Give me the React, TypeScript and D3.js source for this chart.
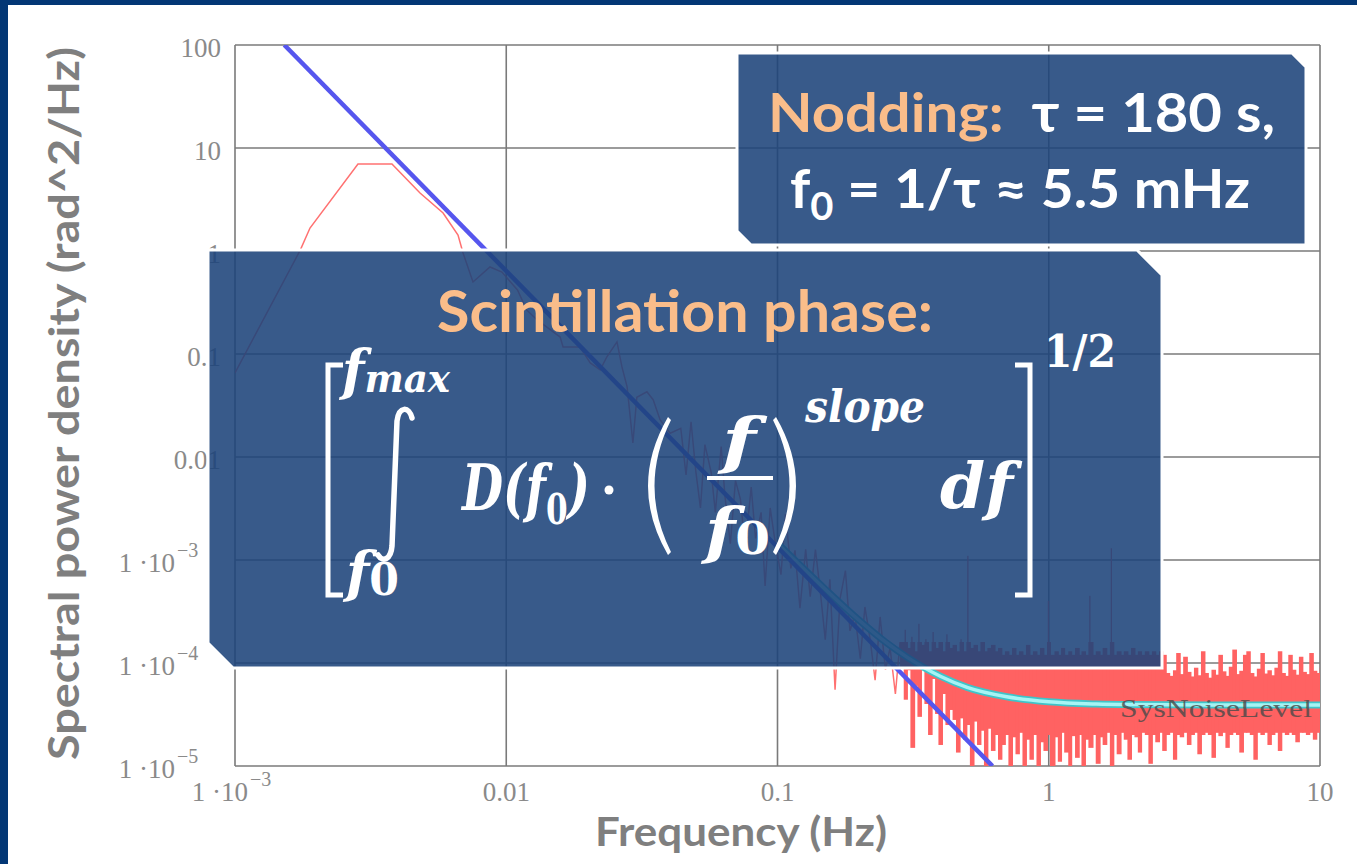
import React from "react";
import * as d3 from "d3";

// axis ticks
const yTicks = [100, 10, 1, 0.1, 0.01, 1e-3, 1e-4, 1e-5];
const yTickLabels = ["100", "10", "1", "0.1", "0.01", "1 ·10^−3", "1 ·10^−4", "1 ·10^−5"];
const xTicks = [1e-3, 0.01, 0.1, 1, 10];
const xTickLabels = ["1 ·10^−3", "0.01", "0.1", "1", "10"];

// measured phase spectrum, low/mid frequencies [Hz, rad^2/Hz]
const measuredPsd: [number, number][] = [
  [0.001, 0.0655], [0.00174, 1.02], [0.00189, 1.67], [0.00284, 7.0], [0.00379, 7.0],
  [0.00481, 3.66], [0.00585, 2.34], [0.00664, 1.43], [0.00693, 0.957], [0.00754, 0.5],
  [0.00871, 0.7], [0.00964, 0.625], [0.011, 0.418], [0.0119, 0.267], [0.013, 0.214],
  [0.0158, 0.146], [0.0162, 0.117], [0.0187, 0.117], [0.0204, 0.082], [0.0222, 0.07],
  [0.0235, 0.094], [0.0256, 0.131], [0.0267, 0.075], [0.0279, 0.048], [0.0293, 0.0137],
  [0.0303, 0.038], [0.033, 0.043], [0.0348, 0.036], [0.0369, 0.023], [0.0402, 0.017],
  [0.044, 0.019], [0.046, 0.0067], [0.048, 0.022], [0.05, 0.0072], [0.052, 0.0032],
  [0.054, 0.0132], [0.057, 0.007], [0.059, 0.0029], [0.062, 0.0126], [0.064, 0.0042],
  [0.067, 0.00144], [0.07, 0.0059], [0.073, 0.0039], [0.076, 0.00132], [0.08, 0.0051],
  [0.083, 0.00162], [0.087, 0.0029], [0.09, 0.00056], [0.094, 0.0032], [0.098, 0.0015],
  [0.103, 0.00072], [0.107, 0.0028], [0.112, 0.00083], [0.116, 0.00124], [0.121, 0.00034],
  [0.127, 0.00127], [0.132, 0.00044], [0.138, 0.00126], [0.144, 0.00048], [0.15, 0.000168],
  [0.156, 0.00065], [0.163, 0.000055], [0.17, 0.00042], [0.178, 0.00079], [0.185, 0.000205],
  [0.193, 0.000294], [0.202, 0.00011], [0.21, 0.00035], [0.22, 0.000164], [0.229, 0.000068],
  [0.239, 0.00028], [0.25, 0.000086], [0.26, 0.00014], [0.272, 0.00005], [0.283, 0.00016],
];

// noise floor, min/max per frequency column [Hz, low, high]
const noiseFloor: [number, number, number][] = [
  [0.283, 9e-5, 1.6e-4], [0.292, 4.4e-5, 2.1e-4], [0.3, 8.5e-5, 1.4e-4], [0.309, 1.5e-5, 1.8e-4],
  [0.319, 6e-5, 1.3e-4], [0.328, 3.0e-5, 2.4e-4], [0.338, 9e-5, 1.5e-4], [0.348, 4.0e-5, 1.7e-4],
  [0.359, 2.0e-5, 1.3e-4], [0.37, 7e-5, 2.0e-4], [0.381, 3.2e-5, 1.4e-4], [0.392, 1.6e-5, 1.6e-4],
  [0.404, 5e-5, 1.3e-4], [0.416, 2.5e-5, 1.9e-4], [0.429, 3.5e-5, 1.4e-4], [0.442, 2.8e-5, 1.5e-4],
  [0.455, 1.35e-5, 1.3e-4], [0.469, 2.9e-5, 1.7e-4], [0.483, 1.8e-5, 1.3e-4], [0.497, 2.5e-5, 1.1e-3],
  [0.512, 1.0e-5, 1.4e-4], [0.528, 2.7e-5, 1.5e-4], [0.544, 1.6e-5, 1.3e-4], [0.56, 2.2e-5, 1.6e-4],
  [0.577, 1.0e-5, 1.3e-4], [0.594, 2.3e-5, 1.4e-4], [0.612, 1.4e-5, 1.5e-4], [0.631, 2.0e-5, 1.3e-4],
  [0.65, 1.15e-5, 1.4e-4], [0.669, 1.6e-5, 1.2e-4], [0.689, 2.0e-5, 1.3e-4], [0.71, 1.0e-5, 1.2e-4],
  [0.732, 1.9e-5, 1.4e-4], [0.754, 1.3e-5, 1.2e-4], [0.776, 2.1e-5, 1.3e-4], [0.8, 1.0e-5, 1.2e-4],
  [0.824, 1.8e-5, 1.5e-4], [0.849, 1.15e-5, 1.2e-4], [0.874, 2.0e-5, 1.3e-4], [0.901, 1.0e-5, 1.2e-4],
  [0.928, 1.7e-5, 1.4e-4], [0.956, 1.4e-5, 1.2e-4], [0.985, 2.0e-5, 4.0e-4], [1.01, 1.0e-5, 1.2e-4],
  [1.05, 1.9e-5, 1.3e-4], [1.08, 1.1e-5, 1.2e-4], [1.11, 2.1e-5, 1.4e-4], [1.14, 1.35e-5, 1.2e-4],
  [1.18, 1.0e-5, 1.3e-4], [1.21, 1.95e-5, 1.2e-4], [1.25, 1.2e-5, 1.4e-4], [1.29, 2.0e-5, 1.2e-4],
  [1.32, 1.0e-5, 1.3e-4], [1.36, 1.8e-5, 1.2e-4], [1.4, 1.5e-5, 4.5e-4], [1.45, 2.0e-5, 1.2e-4],
  [1.49, 1.05e-5, 1.3e-4], [1.54, 1.9e-5, 1.2e-4], [1.58, 1.6e-5, 1.4e-4], [1.63, 2.1e-5, 1.2e-4],
  [1.68, 1.0e-5, 1.3e-3], [1.73, 2.0e-5, 1.2e-4], [1.78, 1.3e-5, 1.3e-4], [1.84, 2.1e-5, 1.2e-4],
  [1.89, 1.8e-5, 1.3e-4], [1.95, 1.15e-5, 1.2e-4], [2.01, 2.0e-5, 1.4e-4], [2.07, 1.9e-5, 1.2e-4],
  [2.13, 1.35e-5, 1.3e-4], [2.19, 2.1e-5, 1.2e-4], [2.26, 2.0e-5, 1.3e-4], [2.33, 1.05e-5, 1.2e-4],
  [2.4, 2.0e-5, 1.3e-4], [2.47, 1.7e-5, 1.2e-4], [2.55, 2.1e-5, 1.3e-4], [2.62, 1.4e-5, 1.2e-4],
  [2.7, 2.0e-5, 8.0e-5], [2.78, 2.1e-5, 7.5e-5], [2.87, 1.15e-5, 8.5e-5], [2.95, 2.0e-5, 1.25e-4],
  [3.04, 1.9e-5, 7.8e-5], [3.13, 2.1e-5, 1.15e-4], [3.23, 1.6e-5, 8.2e-5], [3.33, 2.0e-5, 7.4e-5],
  [3.43, 2.1e-5, 9.0e-5], [3.53, 1.3e-5, 7.6e-5], [3.64, 2.0e-5, 1.3e-4], [3.75, 2.1e-5, 8.0e-5],
  [3.86, 2.0e-5, 7.2e-5], [3.98, 1.2e-5, 8.6e-5], [4.1, 2.1e-5, 7.7e-5], [4.22, 1.95e-5, 1.2e-4],
  [4.35, 2.1e-5, 8.3e-5], [4.48, 1.5e-5, 7.5e-5], [4.61, 2.0e-5, 9.2e-5], [4.75, 2.1e-5, 1.35e-4],
  [4.9, 2.0e-5, 7.8e-5], [5.04, 1.35e-5, 8.4e-5], [5.2, 2.1e-5, 1.2e-4], [5.35, 2.1e-5, 1.3e-4],
  [5.51, 2.0e-5, 8.0e-5], [5.68, 1.15e-5, 7.4e-5], [5.85, 2.1e-5, 8.8e-5], [6.03, 2.0e-5, 1.25e-4],
  [6.21, 2.1e-5, 7.9e-5], [6.4, 1.6e-5, 8.5e-5], [6.59, 2.0e-5, 7.6e-5], [6.79, 2.1e-5, 9.0e-5],
  [6.99, 1.4e-5, 1.3e-4], [7.2, 2.1e-5, 8.0e-5], [7.42, 2.0e-5, 7.5e-5], [7.64, 2.1e-5, 1.2e-4],
  [7.87, 2.0e-5, 8.6e-5], [8.11, 1.7e-5, 7.7e-5], [8.36, 2.1e-5, 1.15e-4], [8.61, 2.1e-5, 8.2e-5],
  [8.87, 2.0e-5, 7.8e-5], [9.13, 2.1e-5, 1.25e-4], [9.41, 1.8e-5, 8.4e-5], [9.69, 2.1e-5, 8.0e-5],
  [9.98, 2.1e-5, 9.0e-5],
];

// f^-8/3 turbulence fit (blue) and fit + system noise (cyan)
const turbulenceFit: [number, number][] = [[0.00152, 100], [0.62, 1e-5]];
const totalModel: [number, number][] = [
  [0.1, 1.45e-3], [0.15, 5.2e-4], [0.2, 2.6e-4], [0.25, 1.6e-4], [0.3, 1.14e-4], [0.4, 7.4e-5],
  [0.5, 5.8e-5], [0.7, 4.7e-5], [1, 4.2e-5], [1.5, 4.0e-5], [2, 3.95e-5], [5, 3.9e-5], [10, 3.9e-5],
];

const GRID = "#7a7a7a";
const TICK = "#8a8a8a";
const TITLE = "#7f7f7f";
const RED = "#ff6262";
const PEACH = "#fabd8a";
const SANS = "Lato, 'Open Sans', sans-serif";
const SERIF = "'Liberation Serif', 'DejaVu Serif', serif";
const MATH = "'DejaVu Serif', serif";

function poly(pts: number[][]) {
  return "M" + pts.map((p) => p.join(",")).join("L") + "Z";
}

export default function App() {
  const x = d3.scaleLog().domain([1e-3, 10]).range([235, 1320]);
  const y = d3.scaleLog().domain([1e-5, 100]).range([766, 45]).clamp(true);
  const line = d3.line<[number, number]>().x((d) => x(d[0])).y((d) => y(d[1]));
  const smooth = d3.line<[number, number]>().x((d) => x(d[0])).y((d) => y(d[1])).curve(d3.curveMonotoneX);

  const boxFill = { fill: "#1c437a", fillOpacity: 0.88, stroke: "#fff", strokeWidth: 3 };
  const bandTop = 1.6e-4; // above this a column is drawn as a thin spike

  return (
    <svg width={1357} height={864} style={{ position: "absolute", left: 0, top: 0, background: "#fff" }}>
      <defs>
        <clipPath id="plot">
          <rect x={235} y={45} width={1085} height={721} />
        </clipPath>
      </defs>
      {/* frame of the slide */}
      <rect x={0} y={0} width={1357} height={5} fill="#033775" />
      <rect x={0} y={0} width={8} height={864} fill="#033775" />

      {/* grid */}
      <g stroke={GRID} strokeWidth={1.6}>
        {yTicks.map((t) => (
          <line key={"gy" + t} x1={235} x2={1320} y1={y(t)} y2={y(t)} />
        ))}
        {xTicks.map((t) => (
          <line key={"gx" + t} x1={x(t)} x2={x(t)} y1={45} y2={766} />
        ))}
      </g>

      <g clipPath="url(#plot)">
        <path d={line(measuredPsd) || ""} fill="none" stroke={RED} strokeWidth={1.5} opacity={0.9} />
        {noiseFloor.map((d, i) => {
          const x0 = x(d[0]);
          const nx = i < noiseFloor.length - 1 ? x(noiseFloor[i + 1][0]) : x0 + 3.5;
          const top = Math.min(d[2], bandTop);
          return (
            <g key={"n" + i}>
              <rect x={x0} width={nx - x0 + 1} y={y(top)} height={y(d[1]) - y(top)} fill={RED} />
              {d[2] > bandTop && (
                <line x1={x0 + 1.5} x2={x0 + 1.5} y1={y(bandTop)} y2={y(d[2])} stroke={RED} strokeWidth={1.3} />
              )}
            </g>
          );
        })}
        <path d={smooth(totalModel) || ""} fill="none" stroke="#3fc4c9" strokeWidth={7} />
        <path d={smooth(totalModel) || ""} fill="none" stroke="#a6f4f4" strokeWidth={3.5} />
        <path d={line(turbulenceFit) || ""} fill="none" stroke="#5656ee" strokeWidth={4.5} />
      </g>
      <text x={1120} y={717} fontFamily={SERIF} fontSize={26} fill="#4a4a4a" opacity={0.8} textLength={192} lengthAdjust="spacingAndGlyphs">
        SysNoiseLevel
      </text>

      {/* tick labels */}
      <g fontFamily={SERIF} fontSize={27} fill={TICK}>
        {yTicks.map((t, i) => {
          const [m, e] = yTickLabels[i].split("^");
          if (!e)
            return (
              <text key={"yl" + t} x={221} y={y(t) + 12} textAnchor="end">{m}</text>
            );
          return (
            <g key={"yl" + t}>
              <text x={175} y={y(t) + 12} textAnchor="end">{m}</text>
              <text x={177} y={y(t) - 3} fontSize={20}>{e}</text>
            </g>
          );
        })}
        {xTicks.map((t, i) => {
          const [m, e] = xTickLabels[i].split("^");
          if (!e)
            return (
              <text key={"xl" + t} x={x(t)} y={801} textAnchor="middle">{m}</text>
            );
          return (
            <g key={"xl" + t}>
              <text x={x(t) + 13} y={801} textAnchor="end">{m}</text>
              <text x={x(t) + 15} y={786} fontSize={20}>{e}</text>
            </g>
          );
        })}
      </g>

      {/* axis titles */}
      <text x={595} y={846} fontFamily={SANS} fontWeight={700} fontSize={40} fill={TITLE} textLength={292} lengthAdjust="spacingAndGlyphs">
        Frequency (Hz)
      </text>
      <text transform="translate(79,760) rotate(-90)" fontFamily={SANS} fontWeight={700} fontSize={42} fill={TITLE} textLength={713} lengthAdjust="spacingAndGlyphs">
        Spectral power density (rad^2/Hz)
      </text>

      {/* nodding call-out */}
      <path d={poly([[737, 53], [1292, 53], [1306, 67], [1306, 245], [751, 245], [737, 231]])} {...boxFill} />
      <text x={768} y={132} fontFamily={SANS} fontWeight={700} fontSize={54} fill="#fff" textLength={507} lengthAdjust="spacingAndGlyphs">
        <tspan fill={PEACH}>Nodding:</tspan>
        <tspan>{"\u00a0\u00a0τ = 180 s,"}</tspan>
      </text>
      <text x={790} y={208} fontFamily={SANS} fontWeight={700} fontSize={54} fill="#fff" textLength={460} lengthAdjust="spacingAndGlyphs">
        f<tspan dy={12} fontSize={38}>0</tspan>
        <tspan dy={-12}>{" = 1/τ ≈ 5.5 mHz"}</tspan>
      </text>

      {/* scintillation call-out */}
      <path d={poly([[208, 250], [1137, 250], [1162, 275], [1162, 668], [233, 668], [208, 643]])} {...boxFill} />
      <text x={437} y={332} fontFamily={SANS} fontWeight={700} fontSize={58} fill={PEACH} textLength={496} lengthAdjust="spacingAndGlyphs">
        Scintillation phase:
      </text>

      <g fill="#fff" fontFamily={MATH} fontWeight={700} fontStyle="italic">
        <path d="M343,365 H328 V595 H343" fill="none" stroke="#fff" strokeWidth={5} />
        <text x={342} y={390} fontSize={56} textLength={108} lengthAdjust="spacingAndGlyphs">
          f<tspan fontSize={40} dy={2}>max</tspan>
        </text>
        <path d="M412,418 C409,406 399,406 397,421 L392,546 C391,559 383,563 378,555" fill="none" stroke="#fff" strokeWidth={5.5} strokeLinecap="round" />
        <text x={346} y={592} fontSize={56} textLength={53} lengthAdjust="spacingAndGlyphs">
          f<tspan fontSize={44} dy={3} fontStyle="normal">0</tspan>
        </text>

        <text x={462} y={510} fontSize={64} textLength={128} lengthAdjust="spacingAndGlyphs">
          D(f<tspan fontSize={42} dy={14} fontStyle="normal">0</tspan>
          <tspan dy={-14}>)</tspan>
        </text>
        <circle cx={609} cy={490} r={4.5} />

        <path d="M668,417 Q628,486 668,555 L671,552 Q638,486 671,420 Z" />
        <text x={722} y={462} fontSize={62} textLength={34} lengthAdjust="spacingAndGlyphs">f</text>
        <line x1={707} x2={773} y1={478} y2={478} stroke="#fff" strokeWidth={4} />
        <text x={705} y={552} fontSize={62} textLength={65} lengthAdjust="spacingAndGlyphs">
          f<tspan fontSize={44} dy={2} fontStyle="normal">0</tspan>
        </text>
        <path d="M776,417 Q816,486 776,555 L773,552 Q806,486 773,420 Z" />

        <text x={805} y={422} fontSize={44} textLength={120} lengthAdjust="spacingAndGlyphs">slope</text>
        <text x={940} y={508} fontSize={64} textLength={73} lengthAdjust="spacingAndGlyphs">df</text>
        <path d="M1015,365 H1030 V595 H1015" fill="none" stroke="#fff" strokeWidth={5} />
        <text x={1044} y={367} fontSize={44} fontStyle="normal" textLength={72} lengthAdjust="spacingAndGlyphs">1/2</text>
      </g>
    </svg>
  );
}
